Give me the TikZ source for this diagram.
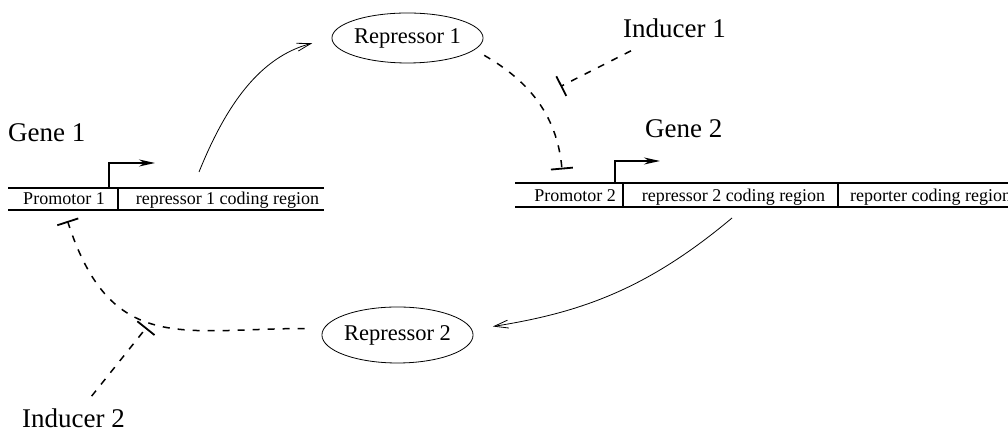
\documentclass[tikz,border=0pt]{standalone}
\usepackage{fontspec}
\setmainfont{Liberation Serif}
\usetikzlibrary{arrows.meta,shapes.geometric}

\begin{document}
\begin{tikzpicture}[
  x=1bp, y=1bp,
  >=Stealth,
  dna/.style={line width=2bp},
  sep/.style={line width=1.4bp},
  region/.style={font=\fontsize{18bp}{20bp}\selectfont, anchor=base, inner sep=0pt},
  lbl/.style={font=\fontsize{27bp}{30bp}\selectfont, anchor=base west, inner sep=2bp},
  prot/.style={draw, ellipse, line width=0.8bp, inner sep=0pt, minimum width=145bp,
               font=\fontsize{22.5bp}{25bp}\selectfont},
  tss/.style={-{Stealth[length=16bp,width=7bp]}, line width=1.4bp},
  expr/.style={-{Straight Barb[length=14bp,width=8bp]}, line width=0.8bp},
  inhib/.style={-{Bar[width=22bp,line width=1.8bp]}, line width=1.5bp,
                dash pattern=on 7bp off 8bp}
]
\useasboundingbox (0,0) rectangle (1008,434);
\clip (0,0) rectangle (1008,434);

%% ---- gene 1 ----
\node[lbl] (gene1) at (6,292) {Gene 1};
\node[region] (prom1) at (64,229) {Promotor 1};
\node[region] (cod1) at (227.5,229) {repressor 1 coding region};
\draw[dna] (8,246) -- (324,246);
\draw[dna] (8,224) -- (324,224);
\draw[sep] (118,246) -- (118,224);
\draw[tss] (109,246) |- (155,271);

%% ---- gene 2 ----
\node[lbl] (gene2) at (643,296) {Gene 2};
\node[region] (prom2) at (575,232) {Promotor 2};
\node[region] (cod2) at (733.5,232) {repressor 2 coding region};
\node[region, anchor=base west] (report) at (850,232) {reporter coding region};
\draw[dna] (515,251) -- (1015,251);
\draw[dna] (515,227) -- (1015,227);
\draw[sep] (623,251) -- (623,227);
\draw[sep] (838,251) -- (838,227);
\draw[tss] (615,251) |- (660,273);

%% ---- repressors and inducers ----
\node[prot, minimum height=50bp] (rep1) at (407.5,396) {Repressor 1};
\node[prot, minimum height=56bp] (rep2) at (397.5,99) {Repressor 2};
\node[lbl] (ind1) at (621,396) {Inducer 1};
\node[lbl] (ind2) at (20,6) {Inducer 2};

\coordinate (tx1) at (199,262);
\coordinate (tx2) at (732,216);
\coordinate (block1) at (562,264.5);
\coordinate (block2) at (67.5,213);
\coordinate (free1) at (560.5,347.5);
\coordinate (free2) at (146.5,106.5);

%% ---- expression ----
\draw[expr, shorten >=20bp] (tx1) to[out=68, in=195] (rep1.west);
\draw[expr, shorten >=21bp] (tx2) to[out=220, in=9] (rep2.4);

%% ---- repression ----
\draw[inhib, shorten <=11bp] (rep1.-10) to[out=-30, in=95] (block1);
\draw[inhib, shorten <=19bp] (rep2.175) to[out=180, in=-72, looseness=1.3] (block2);

%% ---- induction ----
\draw[inhib, shorten <=23bp] (ind1) -- (free1);
\draw[inhib, shorten <=14bp] (ind2) -- (free2);

\end{tikzpicture}
\end{document}
